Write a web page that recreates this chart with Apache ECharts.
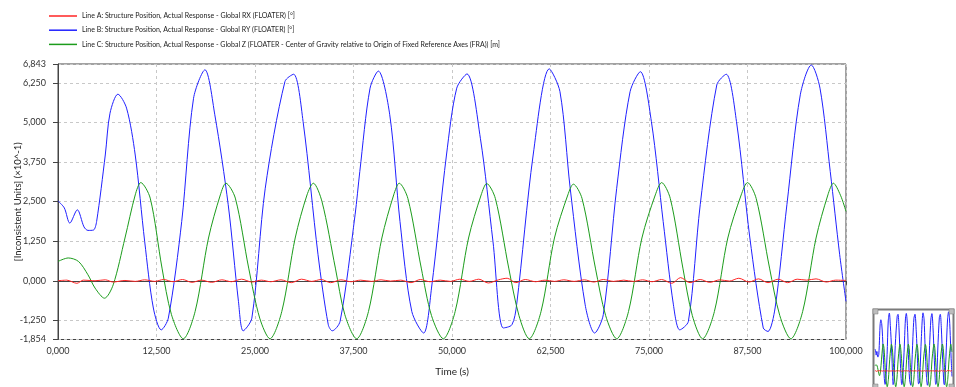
<!DOCTYPE html>
<html><head><meta charset="utf-8">
<script src="https://cdn.jsdelivr.net/npm/echarts@6/dist/echarts.min.js"></script>
<style>html,body{margin:0;padding:0;background:#fff}#c{width:956px;height:387px}</style>
</head><body><div id="c"></div>
<script>
const seriesNames = [
  'Line A: Structure Position, Actual Response - Global RX (FLOATER) [°]',
  'Line B: Structure Position, Actual Response - Global RY (FLOATER) [°]',
  'Line C: Structure Position, Actual Response - Global Z (FLOATER - Center of Gravity relative to Origin of Fixed Reference Axes (FRA)) [m]'
];
const xTicks = [0, 12.5, 25, 37.5, 50, 62.5, 75, 87.5, 100];
const yTicks = [-1.854, -1.25, 0, 1.25, 2.5, 3.75, 5, 6.25, 6.843];
const yName = '[Inconsistent Units] (×10^-1)';
const xName = 'Time (s)';

// [time, value]
const lineA = [[0,0.00],[1.1,0.02],[2.4,-0.08],[3.2,0.02],[4.7,0.00],[6.0,0.03],[7.0,-0.04],[8.5,0.01],[9.8,-0.02],[11.0,0.03],[12.3,-0.02],[13.4,0.04],[14.6,-0.03],[15.8,0.04],[17.0,-0.05],[18.2,0.02],[19.5,-0.05],[20.8,0.03],[22.0,-0.03],[23.3,0.05],[24.6,-0.04],[25.8,0.02],[27.0,-0.03],[28.3,0.03],[29.6,-0.06],[30.9,0.05],[32.2,-0.02],[33.4,0.04],[34.6,-0.06],[35.9,0.03],[37.2,-0.03],[38.4,0.02],[39.8,-0.02],[41.0,0.03],[42.2,-0.01],[43.5,0.02],[44.8,-0.06],[46.0,0.04],[47.2,-0.03],[48.5,0.02],[49.8,-0.02],[51.0,0.05],[52.2,-0.02],[53.4,0.05],[54.6,-0.07],[55.9,0.03],[57.0,0.08],[58.1,-0.06],[59.3,0.04],[60.6,-0.03],[61.8,0.02],[63.0,-0.02],[64.2,0.03],[65.5,-0.02],[66.8,0.03],[68.0,-0.04],[69.2,0.04],[70.5,-0.02],[71.8,0.02],[73.0,-0.02],[74.2,0.03],[75.4,-0.03],[76.6,0.04],[77.9,-0.08],[79.0,0.10],[80.2,-0.06],[81.5,0.04],[82.7,-0.05],[84.0,0.03],[85.2,-0.01],[86.4,0.08],[87.7,-0.04],[88.9,0.06],[90.1,-0.06],[91.4,0.05],[92.6,-0.06],[93.8,0.05],[95.0,0.02],[96.2,0.06],[97.5,-0.04],[98.7,0.02],[100,0.01]];
const lineB = [[0,2.52],[0.8,2.30],[1.5,1.82],[2.45,2.24],[3.3,1.70],[3.8,1.59],[4.5,1.60],[4.9,1.87],[6.0,3.97],[6.6,5.29],[7.6,5.89],[8.7,5.45],[9.8,3.97],[11.0,1.24],[12.1,-0.86],[13.1,-1.55],[14.0,-1.18],[15.7,1.87],[17.2,5.76],[18.65,6.66],[19.9,5.24],[21.6,2.40],[22.9,-0.65],[23.5,-1.58],[24.6,-1.18],[26.3,2.92],[28.8,6.29],[29.9,6.52],[31.1,5.03],[33.0,0.82],[34.3,-1.39],[34.8,-1.58],[35.8,-1.28],[37.7,2.08],[38.3,3.45],[39.6,6.08],[40.65,6.62],[42.1,5.24],[43.4,1.87],[44.9,-0.97],[46.4,-1.65],[47.4,-0.23],[49.3,3.97],[50.6,6.08],[51.9,6.53],[53.6,4.50],[55.2,1.24],[56.5,-1.49],[57.6,-1.39],[58.2,-0.76],[60.3,3.97],[62.35,6.69],[63.7,5.97],[65.0,2.92],[66.9,-0.76],[68.1,-1.65],[69.2,-1.07],[70.9,2.92],[72.6,5.97],[73.9,6.60],[75.3,5.03],[76.8,1.87],[78.1,-0.76],[78.9,-1.55],[80.0,-1.28],[81.5,2.40],[83.6,6.18],[84.8,6.52],[86.1,5.03],[87.8,1.35],[89.5,-1.49],[90.1,-1.60],[91.0,-0.86],[92.5,2.40],[94.2,5.87],[95.6,6.81],[96.7,6.08],[98.0,3.45],[99.2,0.82],[100,-0.65]];
const lineC = [[0,0.61],[1.3,0.72],[2.6,0.61],[3.8,0.19],[4.7,-0.23],[5.9,-0.55],[7.0,-0.13],[8.5,1.35],[9.8,2.71],[10.5,3.10],[11.7,2.61],[13.2,0.40],[14.4,-1.07],[15.9,-1.83],[17.4,-0.97],[19.1,1.35],[20.6,2.71],[21.3,3.08],[22.5,2.61],[24.2,0.40],[25.6,-1.18],[26.9,-1.83],[28.4,-0.97],[30.1,1.35],[31.6,2.71],[32.4,3.08],[33.5,2.50],[35.2,0.40],[36.4,-1.07],[37.9,-1.83],[39.4,-0.97],[41.1,1.35],[42.6,2.71],[43.3,3.08],[44.4,2.60],[46.1,0.40],[47.4,-1.10],[48.9,-1.83],[50.4,-0.97],[52.1,1.35],[53.7,2.71],[54.4,3.07],[55.5,2.60],[57.2,0.40],[58.5,-1.10],[59.8,-1.83],[61.3,-0.97],[63.0,1.35],[64.7,2.71],[65.4,3.05],[66.5,2.60],[68.2,0.40],[69.5,-1.10],[70.9,-1.83],[72.4,-0.97],[74.1,1.35],[75.8,2.71],[76.6,3.10],[77.7,2.60],[79.3,0.40],[80.5,-1.10],[81.8,-1.83],[83.3,-0.97],[85.0,1.35],[86.7,2.71],[87.5,3.10],[88.6,2.60],[90.3,0.40],[91.6,-1.10],[93.0,-1.83],[94.5,-0.97],[96.2,1.35],[97.7,2.71],[98.4,3.08],[99.3,2.70],[100,2.19]];

const colors = ['#ff2424', '#2020ff', '#1c9c1c'];
const datasets = [lineA, lineB, lineC];
const FONT = 'Lato, "Open Sans", sans-serif';
const fmt = v => v.toFixed(3).replace('.', ',');

const chart = echarts.init(document.getElementById('c'));
const series = datasets.map((d, i) => ({name: seriesNames[i], type: 'line', data: d, xAxisIndex: 0, yAxisIndex: 0,
    symbol: 'none', smooth: 0.3, lineStyle: {width: 1, color: colors[i]}, itemStyle: {color: colors[i]}, z: i === 0 ? 4 : 3}));
const thumbSeries = datasets.map((d, i) => ({type: 'line', data: d, xAxisIndex: 1, yAxisIndex: 1, silent: true,
    symbol: 'none', smooth: 0.3, lineStyle: {width: 1, color: colors[i]}, itemStyle: {color: colors[i]}, z: i === 0 ? 4 : 3}));

chart.setOption({
  animation: false,
  textStyle: {fontFamily: FONT},
  legend: {
    data: seriesNames, orient: 'vertical', left: 49, top: 12.5, itemWidth: 28, itemHeight: 1.5, itemGap: 7.2,
    icon: 'rect', selectedMode: false, padding: 0,
    textStyle: {fontSize: 7, color: '#222', fontFamily: FONT, padding: [0, 0, 0, 0]}
  },
  grid: [
    {left: 58, right: 110, top: 64, bottom: 47.5, show: true, borderColor: '#444', borderWidth: 1},
    {left: 875, top: 311.5, width: 77, height: 77.7, show: false}
  ],
  xAxis: [
    {type: 'value', gridIndex: 0, min: 0, max: 100, interval: 12.5,
     name: xName, nameLocation: 'middle', nameGap: 27, nameMoveOverlap: false,
     nameTextStyle: {fontSize: 10, color: '#222', fontFamily: FONT},
     axisLine: {show: true, lineStyle: {color: '#444'}}, axisTick: {show: true, length: 4, lineStyle: {color: '#444'}},
     axisLabel: {formatter: fmt, fontSize: 9, color: '#333', margin: 7, showMinLabel: true, showMaxLabel: true},
     splitLine: {show: true, lineStyle: {color: '#c8c8c8', type: [3, 3]}}},
    {type: 'value', gridIndex: 1, min: 0, max: 100, show: false, splitLine: {show: false}}
  ],
  yAxis: [
    {type: 'value', gridIndex: 0, min: -1.854, max: 6.843,
     name: yName, nameLocation: 'middle', nameGap: 35, nameMoveOverlap: false,
     nameTextStyle: {fontSize: 9.5, color: '#222', fontFamily: FONT},
     axisLine: {show: true, lineStyle: {color: '#444'}},
     axisTick: {show: true, length: 5, lineStyle: {color: '#444'}, customValues: yTicks},
     axisLabel: {formatter: fmt, fontSize: 9, color: '#333', margin: 12, customValues: yTicks},
     splitLine: {show: true, lineStyle: {color: '#c8c8c8', type: [3, 3]}}},
    {type: 'value', gridIndex: 1, min: -1.854, max: 6.843, show: false, splitLine: {show: false}}
  ],
  graphic: [
    {type: 'rect', silent: true, shape: {x: 873.5, y: 309.5, width: 80, height: 90}, style: {fill: 'none', stroke: '#7a7a7a', lineWidth: 2}, z: 100},
    {type: 'rect', silent: true, shape: {x: 873, y: 309, width: 5, height: 5}, style: {fill: '#bdbdbd', stroke: '#7a7a7a', lineWidth: 0.5}, z: 101},
    {type: 'rect', silent: true, shape: {x: 949, y: 309, width: 5, height: 5}, style: {fill: '#bdbdbd', stroke: '#7a7a7a', lineWidth: 0.5}, z: 101},
    {type: 'rect', silent: true, shape: {x: 873, y: 384, width: 5, height: 5}, style: {fill: '#bdbdbd', stroke: '#7a7a7a', lineWidth: 0.5}, z: 101},
    {type: 'rect', silent: true, shape: {x: 949, y: 384, width: 5, height: 5}, style: {fill: '#bdbdbd', stroke: '#7a7a7a', lineWidth: 0.5}, z: 101}
  ],
  series: series.concat(thumbSeries)
});
</script></body></html>
